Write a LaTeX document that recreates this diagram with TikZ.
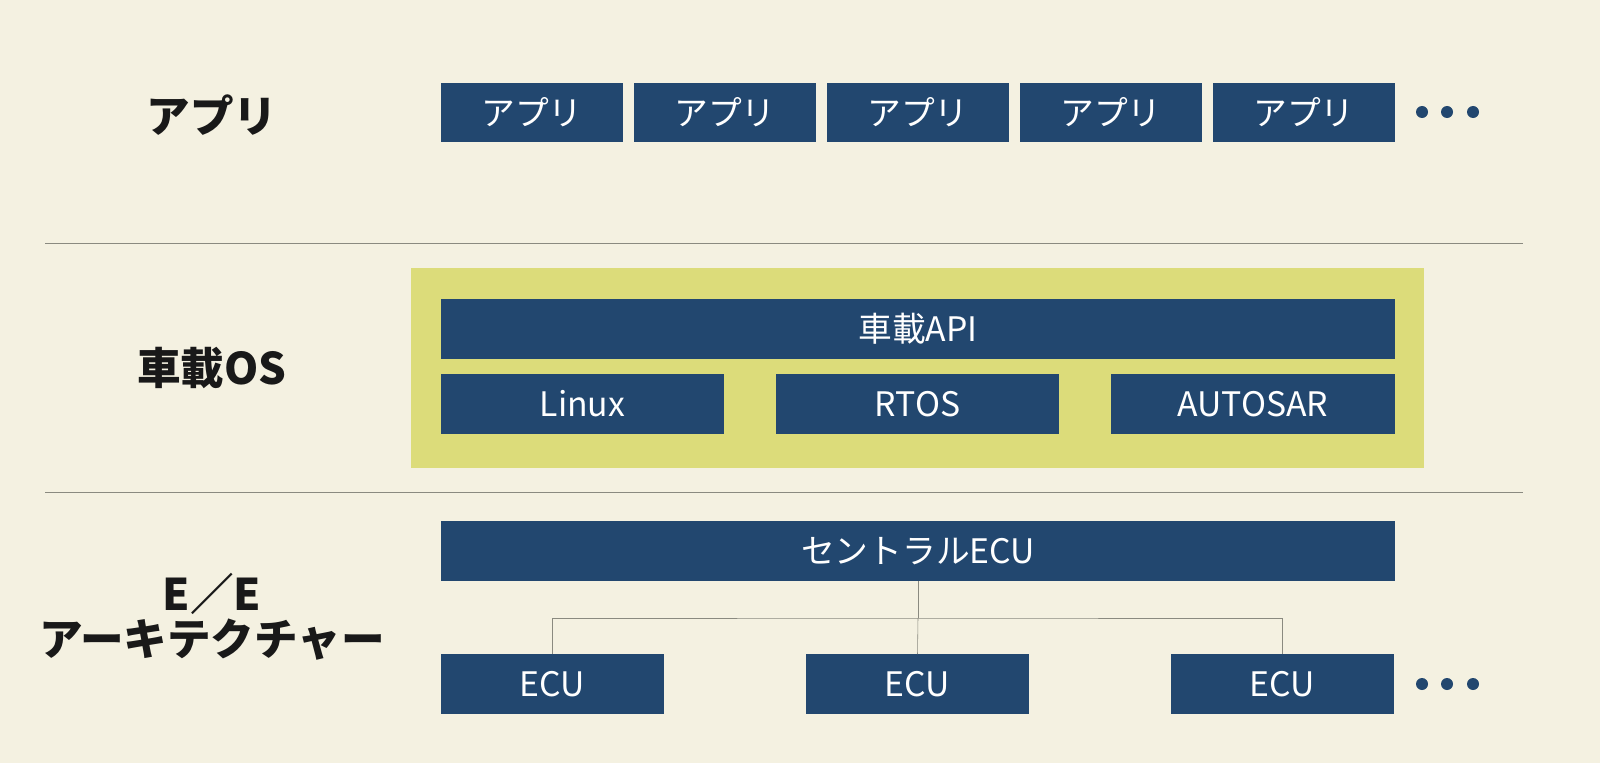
\documentclass[tikz,border=0pt]{standalone}
\usepackage{fontspec}
\setmainfont{Noto Sans CJK JP}
\usetikzlibrary{positioning}
\definecolor{bgcream}{HTML}{F4F1E1}
\definecolor{boxblue}{HTML}{22476F}
\definecolor{osgreen}{HTML}{DCDC7A}
\definecolor{rulegray}{HTML}{8A8A80}
\tikzset{
  blk/.style={fill=boxblue, text=white, inner sep=0pt, minimum height=1.475cm, font=\fontsize{24}{26}\selectfont},
  app/.style={blk, minimum width=4.55cm},
  os/.style={blk, minimum width=7.075cm},
  ecu/.style={blk, minimum width=5.575cm},
  wide/.style={blk, minimum width=23.85cm},
  layer/.style={font=\fontsize{31}{36}\selectfont\bfseries, text=black!90, align=center},
  dot/.style={fill=boxblue, circle, inner sep=0pt, minimum size=0.3cm},
}
\begin{document}
\begin{tikzpicture}[x=0.025cm,y=-0.025cm]
        \fill[bgcream] (0,0) rectangle (1600,763);
        \useasboundingbox (0,0) rectangle (1600,763);
        %%Layer labels
        \node[layer] (lapp) at (212,115) {アプリ};
        \node[layer] (los) at (212,368) {車載OS};
        \node[layer] (lee) at (212,617) {E／E\\[-4pt]アーキテクチャー};
        %%Separators
        \draw[rulegray, thin] (45,243) -- (1523,243);
        \draw[rulegray, thin] (45,492) -- (1523,492);
        %%Apps
        \foreach \x [count=\i] in {532,725,918,1111,1304}
          \node[app] (a\i) at (\x,112.5) {アプリ};
        \foreach \x in {1422,1447,1473}
          \node[dot] at (\x,112) {};
        %%OS
        \fill[osgreen] (411,268) rectangle (1424,468);
        \node[wide] (api) at (918,329) {車載API};
        \node[os] (linux) at (582.5,404) {Linux};
        \node[os] (rtos) at (917.5,404) {RTOS};
        \node[os] (autosar) at (1253,404) {AUTOSAR};
        %%E/E
        \node[wide] (central) at (918,551) {セントラルECU};
        \node[ecu] (e1) at (552.5,684) {ECU};
        \node[ecu] (e2) at (917.5,684) {ECU};
        \node[ecu] (e3) at (1282.5,684) {ECU};
        \foreach \x in {1422,1447,1473}
          \node[dot] at (\x,684) {};
        \coordinate (bus) at (918,618);
        \draw[rulegray] (central.south) -- (bus);
        \draw[rulegray] (e1.north) |- (bus) -| (e3.north);
        \draw[rulegray] (bus) -- (e2.north);
\end{tikzpicture}
\end{document}
